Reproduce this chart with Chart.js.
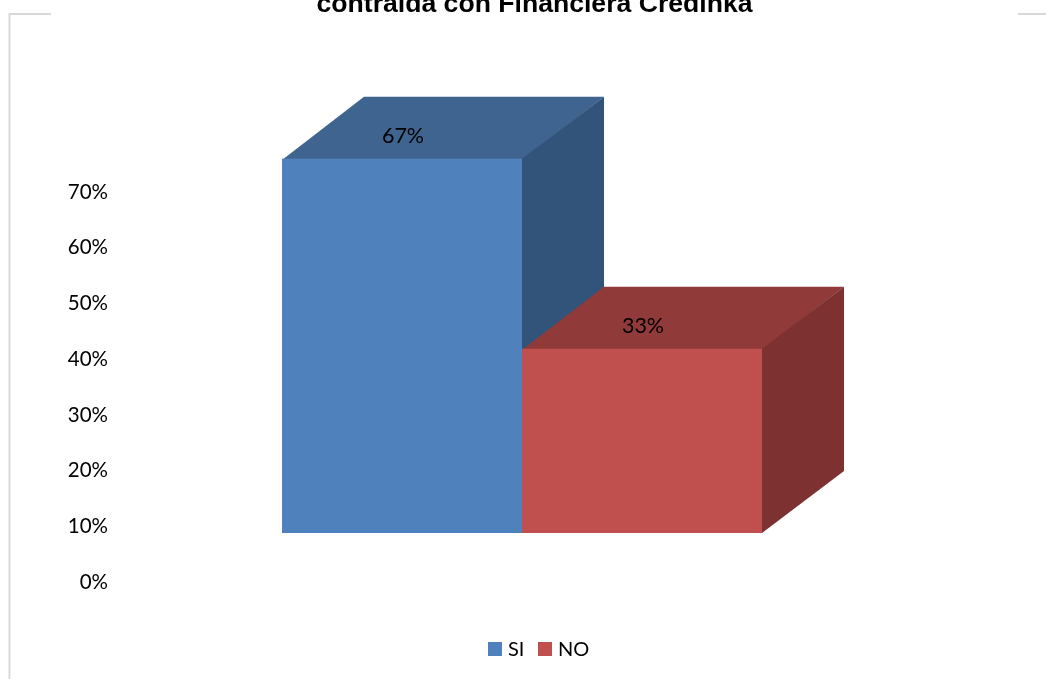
<!DOCTYPE html>
<html>
<head>
<meta charset="utf-8">
<title>Financiera Credinka</title>
<script src="https://cdn.jsdelivr.net/npm/chart.js@4"></script>
<style>
  html, body { margin: 0; padding: 0; background: #fff; }
  canvas { display: block; }
</style>
</head>
<body>
<canvas id="creditChart" width="1046" height="679"></canvas>
<script>
var categories = ['Respuesta'];
var siValues = [67];
var noValues = [33];
var tickValues = [0, 10, 20, 30, 40, 50, 60, 70];
var titleText = 'contraída con Financiera Credinka';

// front, top and side colours of each box
var shades = {
  SI: { front: '#4F81BD', top: '#3F6490', side: '#33547A' },
  NO: { front: '#C0504D', top: '#913A3A', side: '#7D3130' }
};
var depthX = 82;
var depthY = 62;

function face(ctx, color, pts) {
  ctx.fillStyle = color;
  ctx.beginPath();
  ctx.moveTo(pts[0][0], pts[0][1]);
  for (var i = 1; i < pts.length; i++) ctx.lineTo(pts[i][0], pts[i][1]);
  ctx.closePath();
  ctx.fill();
}

// top and side faces go behind the bars the library draws
var boxFaces = {
  id: 'boxFaces',
  beforeDatasetsDraw: function (chart) {
    var ctx = chart.ctx;
    chart.data.datasets.forEach(function (ds, i) {
      var bar = chart.getDatasetMeta(i).data[0];
      var c = shades[ds.label];
      var l = bar.x - bar.width / 2, r = bar.x + bar.width / 2;
      // 1px overlap under the front face so no seam shows at its top edge
      var y = Math.round(bar.y) + 1;
      face(ctx, c.top, [[l, y], [l + depthX, bar.y - depthY], [r + depthX, bar.y - depthY], [r, y]]);
      face(ctx, c.side, [[r, bar.y], [r + depthX, bar.y - depthY], [r + depthX, bar.base - depthY], [r, bar.base]]);
    });
  },
  afterDatasetsDraw: function (chart) {
    var ctx = chart.ctx;
    ctx.save();
    ctx.font = '21.5px Lato';
    ctx.fillStyle = '#000';
    ctx.textAlign = 'center';
    ctx.textBaseline = 'middle';
    chart.data.datasets.forEach(function (ds, i) {
      var bar = chart.getDatasetMeta(i).data[0];
      ctx.fillText(ds.data[0] + '%', bar.x + 1, bar.y - 23);
    });
    ctx.restore();
  }
};

// chart frame, heading and legend
var decorations = {
  id: 'decorations',
  beforeDraw: function (chart) {
    var ctx = chart.ctx;
    ctx.save();
    ctx.strokeStyle = '#D9D9D9';
    ctx.lineWidth = 2;
    ctx.beginPath();
    ctx.moveTo(51, 14);
    ctx.lineTo(9.5, 14);
    ctx.lineTo(9.5, 679);
    ctx.moveTo(1018, 14);
    ctx.lineTo(1046, 14);
    ctx.stroke();

    ctx.fillStyle = '#000';
    ctx.font = 'bold 26.6px "Liberation Sans"';
    ctx.textAlign = 'center';
    ctx.textBaseline = 'alphabetic';
    ctx.fillText(titleText, 534.5, 12);
    ctx.restore();
  },
  afterDraw: function (chart) {
    var ctx = chart.ctx;
    var x = 488;
    ctx.save();
    ctx.font = '20px Lato';
    ctx.textBaseline = 'middle';
    chart.data.datasets.forEach(function (ds) {
      ctx.fillStyle = ds.backgroundColor;
      ctx.fillRect(x, 642, 14, 14);
      ctx.fillStyle = '#000';
      ctx.fillText(ds.label, x + 20, 650);
      x += 50;
    });
    ctx.restore();
  }
};

var ctx = document.getElementById('creditChart').getContext('2d');
var chart = new Chart(ctx, {
  type: 'bar',
  data: {
    labels: categories,
    datasets: [
      { label: 'SI', data: siValues, backgroundColor: shades.SI.front, yAxisID: 'yBars', barPercentage: 1, categoryPercentage: 0.6 },
      { label: 'NO', data: noValues, backgroundColor: shades.NO.front, yAxisID: 'yBars', barPercentage: 1, categoryPercentage: 0.6 }
    ]
  },
  options: {
    responsive: false,
    animation: false,
    layout: { padding: { top: 25, right: 124, bottom: 97, left: 0 } },
    plugins: {
      legend: { display: false },
      title: { display: false },
      tooltip: { enabled: false }
    },
    scales: {
      x: { display: false },
      y: {
        position: 'left',
        min: 0,
        max: 100,
        afterBuildTicks: function (axis) {
          axis.ticks = tickValues.map(function (v) { return { value: v }; });
        },
        afterFit: function (axis) { axis.width = 122; },
        grid: { display: false },
        border: { display: false },
        ticks: {
          padding: 6,
          color: '#000',
          font: { family: 'Lato', size: 20.5 },
          callback: function (v) { return v + '%'; }
        }
      },
      // the boxes stand on a floor above the 0% label
      yBars: { display: false, min: -8.77, max: 90.96 }
    }
  },
  plugins: [boxFaces, decorations]
});
</script>
</body>
</html>
